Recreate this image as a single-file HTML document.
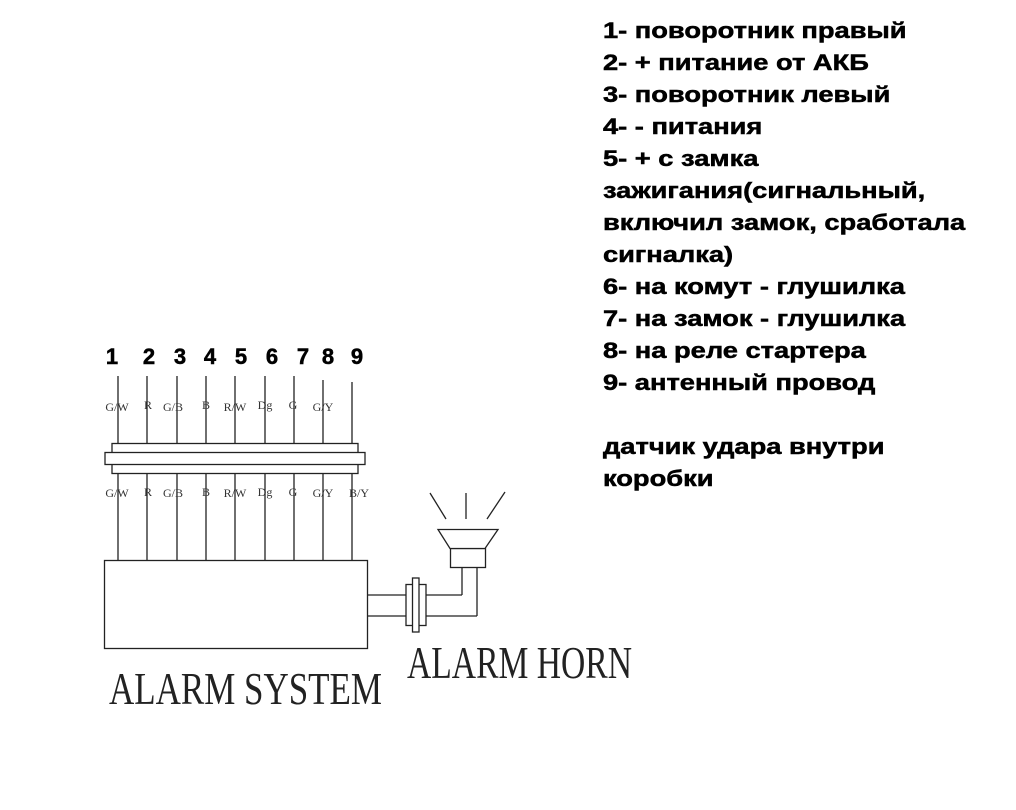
<!DOCTYPE html>
<html><head><meta charset="utf-8"><style>
html,body{margin:0;padding:0;background:#fff;}
svg{display:block}
.l{font-family:"Liberation Sans","DejaVu Sans",sans-serif;font-weight:bold;font-size:22px;fill:#000;stroke:#000;stroke-width:0.5}
.s{font-family:"Liberation Serif",serif;font-size:12px;fill:#333}
.b{font-family:"Liberation Serif",serif;font-size:46px;fill:#222}
</style></head><body>
<svg width="1016" height="810" viewBox="0 0 1016 810" xmlns="http://www.w3.org/2000/svg">
<g class="l" transform="translate(603,0) scale(1.24,1) translate(-603,0)">
<text x="603" y="38">1- поворотник правый</text>
<text x="603" y="70">2- + питание от АКБ</text>
<text x="603" y="102">3- поворотник левый</text>
<text x="603" y="134">4- - питания</text>
<text x="603" y="166">5- + с замка</text>
<text x="603" y="198">зажигания(сигнальный,</text>
<text x="603" y="230">включил замок, сработала</text>
<text x="603" y="262">сигналка)</text>
<text x="603" y="294">6- на комут - глушилка</text>
<text x="603" y="326">7- на замок - глушилка</text>
<text x="603" y="358">8- на реле стартера</text>
<text x="603" y="390">9- антенный провод</text>
<text x="603" y="454">датчик удара внутри</text>
<text x="603" y="486">коробки</text>
</g>
<g class="l" text-anchor="middle">
<text x="112" y="364">1</text><text x="149" y="364">2</text><text x="180" y="364">3</text>
<text x="210" y="364">4</text><text x="241" y="364">5</text><text x="272" y="364">6</text>
<text x="303" y="364">7</text><text x="328" y="364">8</text><text x="357" y="364">9</text>
</g>
<g stroke="#222" stroke-width="1.3" fill="none">
<line x1="118" y1="376" x2="118" y2="560"/><line x1="147" y1="376" x2="147" y2="560"/>
<line x1="177" y1="376" x2="177" y2="560"/><line x1="206" y1="376" x2="206" y2="560"/>
<line x1="235" y1="376" x2="235" y2="560"/><line x1="265" y1="376" x2="265" y2="560"/>
<line x1="294" y1="376" x2="294" y2="560"/><line x1="323" y1="380" x2="323" y2="560"/>
<line x1="352" y1="382" x2="352" y2="560"/>
<rect x="112" y="443.5" width="246" height="30" fill="#fff"/>
<rect x="105" y="452.5" width="260" height="12" fill="#fff"/>
<rect x="104.5" y="560.5" width="263" height="88" fill="#fff"/>
<line x1="367" y1="595" x2="462" y2="595"/>
<line x1="367" y1="616" x2="477" y2="616"/>
<line x1="462" y1="595" x2="462" y2="567"/>
<line x1="477" y1="616" x2="477" y2="567"/>
<rect x="406" y="584.5" width="20" height="41" fill="#fff"/>
<rect x="412.5" y="578" width="6.5" height="54" fill="#fff"/>
<rect x="450.5" y="548.5" width="35" height="19" fill="#fff"/>
<polygon points="438,529.5 498,529.5 485,548.5 450,548.5" fill="#fff"/>
<line x1="430" y1="493" x2="446" y2="519"/>
<line x1="466" y1="493" x2="466" y2="519"/>
<line x1="505" y1="492" x2="487" y2="519"/>
</g>
<g class="s" text-anchor="middle">
<text x="117" y="411">G/W</text><text x="148" y="409">R</text><text x="173" y="411">G/B</text>
<text x="206" y="409">B</text><text x="235" y="411">R/W</text><text x="265" y="409">Dg</text>
<text x="293" y="409">G</text><text x="323" y="411">G/Y</text>
<text x="117" y="497">G/W</text><text x="148" y="496">R</text><text x="173" y="497">G/B</text>
<text x="206" y="496">B</text><text x="235" y="497">R/W</text><text x="265" y="496">Dg</text>
<text x="293" y="496">G</text><text x="323" y="497">G/Y</text><text x="359" y="497">B/Y</text>
</g>
<text class="b" x="109" y="704" textLength="273" lengthAdjust="spacingAndGlyphs">ALARM SYSTEM</text>
<text class="b" x="407" y="678" textLength="225" lengthAdjust="spacingAndGlyphs">ALARM HORN</text>
</svg>
</body></html>
